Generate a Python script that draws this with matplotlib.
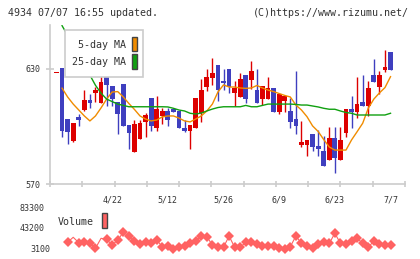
import numpy as np
import matplotlib
matplotlib.use('Agg')
import matplotlib.pyplot as plt
from matplotlib.patches import Rectangle

# daily candles, 4/8 .. 7/7 (61 trading days)
opens = [627.8, 630.3, 603.9, 592.4, 605.1, 608.8, 613.7, 617.6, 612.4, 628.0,
         621.1, 612.6, 622.2, 600.8, 586.9, 593.7, 602.5, 615.0, 599.4, 605.6,
         608.1, 609.1, 608.1, 599.4, 597.7, 599.4, 606.9, 620.8, 625.5, 632.1,
         623.7, 630.0, 617.6, 615.6, 626.9, 624.3, 619.0, 614.3, 614.3, 620.2,
         607.7, 613.3, 608.1, 603.8, 590.5, 590.5, 595.9, 589.8, 587.2, 582.7,
         593.8, 582.7, 596.8, 609.1, 607.7, 612.6, 610.9, 626.9, 620.8, 629.6,
         638.9]
closes = [627.8, 597.7, 597.0, 602.0, 603.6, 613.8, 612.4, 619.0, 623.3, 621.7,
          614.3, 606.7, 600.4, 596.8, 601.3, 601.8, 606.0, 600.4, 609.1, 608.1,
          603.6, 607.7, 599.4, 597.7, 600.8, 615.0, 619.0, 626.0, 628.1, 618.9,
          622.7, 620.8, 620.2, 624.8, 614.3, 629.0, 612.4, 621.1, 619.9, 607.7,
          617.0, 615.9, 602.5, 600.4, 591.9, 593.0, 589.5, 588.4, 579.6, 593.8,
          583.7, 593.0, 609.1, 607.7, 611.7, 610.9, 619.9, 623.4, 626.9, 631.0,
          629.6]
highs = [627.8, 630.3, 603.9, 602.0, 606.4, 619.0, 617.0, 620.8, 626.9, 630.0,
         621.1, 612.6, 622.2, 600.8, 603.2, 603.4, 607.0, 615.0, 616.1, 609.5,
         609.8, 609.1, 608.1, 603.6, 600.8, 615.0, 624.8, 630.0, 635.6, 632.1,
         630.0, 630.0, 623.7, 628.1, 626.9, 634.3, 630.0, 621.1, 625.8, 620.2,
         617.0, 615.9, 614.7, 629.0, 602.9, 593.0, 595.9, 598.2, 595.0, 599.6,
         599.6, 599.6, 609.1, 615.9, 625.8, 626.9, 623.7, 635.2, 629.0, 639.9,
         638.9]
lows = [627.8, 594.7, 590.9, 591.8, 600.4, 608.1, 609.7, 612.8, 612.4, 610.7,
        610.7, 596.0, 600.4, 588.2, 586.9, 593.7, 594.7, 597.7, 597.7, 601.5,
        600.4, 607.7, 599.4, 597.0, 588.3, 599.4, 602.5, 618.5, 621.7, 613.3,
        618.9, 617.6, 610.9, 615.6, 612.4, 619.6, 612.4, 611.2, 614.3, 607.7,
        606.7, 607.7, 599.4, 595.9, 589.5, 584.8, 587.4, 584.8, 579.6, 582.7,
        575.6, 582.7, 594.7, 599.4, 604.6, 610.9, 605.6, 623.4, 616.8, 628.6,
        629.6]

ma5 = [np.nan, 620.0, 615.4, 611.7, 608.6, 605.5, 602.9, 605.5, 609.7, 614.3,
       618.0, 618.2, 615.4, 612.0, 608.9, 605.5, 603.9, 602.9, 603.4, 605.0,
       605.5, 605.5, 604.4, 602.9, 602.4, 603.9, 605.5, 608.1, 611.7, 618.0,
       621.7, 620.6, 620.6, 620.1, 619.9, 620.1, 621.4, 620.1, 619.0, 618.2,
       617.2, 616.2, 615.4, 611.2, 608.6, 605.1, 600.3, 597.4, 593.2, 589.3,
       587.7, 587.7, 587.7, 593.0, 597.3, 601.7, 609.5, 614.3, 617.5, 620.3,
       626.0]
ma25 = [np.nan, 652.6, 647.5, 642.3, 637.2, 631.9, 626.8, 621.5, 617.4, 614.3,
        613.0, 611.7, 611.0, 610.3, 610.3, 610.3, 610.3, 610.3, 610.3, 610.3,
        610.2, 609.5, 608.6, 608.1, 606.9, 606.5, 607.0, 608.1, 609.1, 609.9,
        610.3, 610.3, 610.3, 610.3, 611.0, 610.3, 610.3, 611.0, 611.7, 611.7,
        611.7, 611.7, 611.7, 611.5, 611.2, 611.2, 610.7, 610.2, 609.5, 609.0,
        609.0, 608.1, 607.3, 606.9, 606.0, 606.0, 606.0, 606.0, 606.0, 606.0,
        606.9]

volume = [np.nan, np.nan, 16800, 26600, 16000, 16800, 14800, 5100, 24600, 22700,
          11500, 21300, 36400, 29100, 19900, 12900, 16800, 14800, 21300, 8200,
          9600, 3100, 7000, 9600, 16000, 19300, 29100, 27700, 11500, 7000,
          7000, 29100, 7000, 7000, 16800, 18000, 12900, 9600, 9600, 9600,
          5100, 3100, 8200, 29100, 14800, 9600, 5100, 12900, 16800, 14800,
          34400, 14800, 13500, 19300, 24600, 14800, 7000, 19300, 13500, 11500,
          11500]

date_pos = [10, 20, 30, 40, 50, 60]
date_labels = ['4/22', '5/12', '5/26', '6/9', '6/23', '7/7']
price_ticks = [570, 630]
vol_ticks = [3100, 43200, 83300]

RED = '#dd0000'
BLUE = '#3f3fbf'
ORANGE = '#f08c00'
GREEN = '#10a010'
VOLC = '#ff6262'
GRID = '#cccccc'
TXT = '#333333'
MONO = 'DejaVu Sans Mono'

W, H = 420, 259
fig = plt.figure(figsize=(W / 100, H / 100), dpi=100)

def fx(x):
    return x / W

def fy(y):
    return 1 - y / H

x = np.arange(len(opens))
xlim = (-1.168, 62.6)

ax = fig.add_axes([fx(50), fy(184), fx(355), 159 / H])
ax.set_xlim(*xlim)
ax.set_ylim(570, 570 + 159 / 1.9167)

o = np.array(opens)
c = np.array(closes)
up = c >= o
cols = np.where(up, RED, BLUE)
ax.vlines(x, lows, highs, colors=cols, linewidth=1.0, zorder=2)
body = np.maximum(np.abs(c - o), 0.6)
ax.bar(x, body, bottom=np.minimum(o, c), width=0.85, color=cols, linewidth=0, zorder=3)

ax.plot(x, ma5, color=ORANGE, linewidth=1.0, zorder=4)
ax.plot(x, ma25, color=GREEN, linewidth=1.0, zorder=4)

for s in ['top', 'right']:
    ax.spines[s].set_visible(False)
for s in ['left', 'bottom']:
    ax.spines[s].set_color(GRID)
    ax.spines[s].set_linewidth(1.2)

ax.set_xticks(date_pos)
ax.set_xticklabels(date_labels)
ax.set_xticks(np.linspace(xlim[0], xlim[1], 12), minor=True)
ax.tick_params(axis='x', which='major', length=0, pad=8, labelsize=6, labelcolor=TXT)
ax.tick_params(axis='x', which='minor', direction='inout', length=5, width=1.2, color=GRID)
ax.set_yticks(price_ticks)
ax.tick_params(axis='y', direction='inout', length=6, width=1.2, color=GRID,
               pad=4, labelsize=6, labelcolor=TXT)
for lab in ax.get_xticklabels() + ax.get_yticklabels():
    lab.set_family(MONO)

# legend box
ax.add_patch(Rectangle((fx(65), fy(77)), fx(78), 47 / H, transform=fig.transFigure,
                       facecolor='white', edgecolor=GRID, linewidth=1.2, zorder=6, clip_on=False))
ax.add_patch(Rectangle((fx(132), fy(51)), fx(5), 14 / H, transform=fig.transFigure,
                       facecolor=ORANGE, edgecolor='#444444', linewidth=1, zorder=7, clip_on=False))
ax.add_patch(Rectangle((fx(132), fy(69)), fx(5), 15 / H, transform=fig.transFigure,
                       facecolor=GREEN, edgecolor='#444444', linewidth=1, zorder=7, clip_on=False))
fig.text(fx(126), fy(45), '5-day MA', ha='right', va='center', fontsize=7.2,
         family=MONO, color=TXT, zorder=8)
fig.text(fx(126), fy(62), '25-day MA', ha='right', va='center', fontsize=7.2,
         family=MONO, color=TXT, zorder=8)

# volume panel
vax = fig.add_axes([fx(50), fy(252), fx(355), 47 / H])
vax.set_xlim(*xlim)
vax.set_ylim(3100 - 2.7 * 1956, 3100 + 44.3 * 1956)
vax.axis('off')
no_mark = [3, 8]
marks = [i for i in range(len(volume)) if i not in no_mark and not np.isnan(volume[i])]
vax.plot(x, volume, color=VOLC, linewidth=0.8, marker='D', markersize=5,
         markevery=marks, markeredgewidth=0, clip_on=False)
vax.text(-0.015, vol_ticks[2], '83300', transform=vax.get_yaxis_transform(),
         ha='right', va='center', fontsize=6, family=MONO, color=TXT)
vax.text(-0.015, vol_ticks[1], '43200', transform=vax.get_yaxis_transform(),
         ha='right', va='center', fontsize=6, family=MONO, color=TXT)
vax.text(0.0, vol_ticks[0], '3100', transform=vax.get_yaxis_transform(),
         ha='right', va='center', fontsize=6, family=MONO, color=TXT)

fig.text(fx(58), fy(222), 'Volume', ha='left', va='center', fontsize=7.2,
         family=MONO, color=TXT)
fig.add_artist(Rectangle((fx(102), fy(228)), fx(5), 15 / H, transform=fig.transFigure,
                         facecolor=VOLC, edgecolor='#444444', linewidth=1))

fig.text(fx(8), fy(13), '4934 07/07 16:55 updated.', ha='left', va='center',
         fontsize=7.2, family=MONO, color=TXT)
fig.text(fx(409), fy(13), '(C)https://www.rizumu.net/', ha='right', va='center',
         fontsize=7.2, family=MONO, color=TXT)

fig.savefig('out.png', dpi=100, facecolor='white')
